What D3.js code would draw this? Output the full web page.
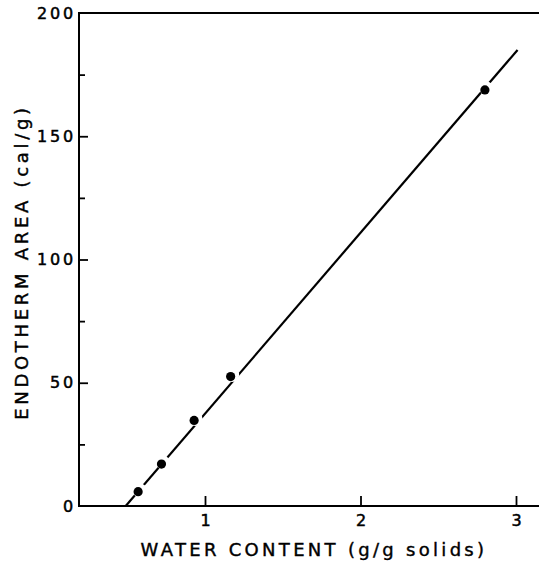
<!DOCTYPE html>
<html>
<head>
<meta charset="utf-8">
<script src="https://cdn.jsdelivr.net/npm/d3@7"></script>
<style>
  html, body { margin: 0; padding: 0; background: #fff; }
  svg { display: block; }
  text { font-family: "DejaVu Sans", sans-serif; fill: #000; }
</style>
</head>
<body>
<svg id="chart" width="539" height="566"></svg>
<script>
// ---- data ----
const waterContent = [0.57, 0.72, 0.93, 1.165, 2.80];
const endothermArea = [5.8, 17, 34.7, 52.5, 168.8];
const fitLineX = [0.49, 3.01];
const fitLineY = [0, 185];
const xMajorTicks = [1, 2, 3];
const yMajorTicks = [0, 50, 100, 150, 200];
const yMinorTicks = [25, 75, 125, 175];
const xTitle = "WATER CONTENT (g/g solids)";
const yTitle = "ENDOTHERM AREA (cal/g)";

const svg = d3.select("#chart");
const W = 539, H = 566;
const axisX = 79;

const x = d3.scaleLinear().domain([0, 3]).range([49.5, 516]);
const y = d3.scaleLinear().domain([0, 200]).range([506, 13]);

// axis frame lines
svg.append("line").attr("x1", axisX).attr("x2", axisX)
  .attr("y1", y(200)).attr("y2", y(0))
  .attr("stroke", "#000").attr("stroke-width", 2);
svg.append("line").attr("x1", axisX - 1).attr("x2", W)
  .attr("y1", y(0)).attr("y2", y(0))
  .attr("stroke", "#000").attr("stroke-width", 2);
svg.append("line").attr("x1", axisX - 1).attr("x2", W)
  .attr("y1", y(200)).attr("y2", y(200))
  .attr("stroke", "#000").attr("stroke-width", 2);

// y axis major
const gy = svg.append("g").attr("transform", `translate(${axisX},0)`)
  .call(d3.axisLeft(y).tickValues(yMajorTicks).tickSize(-9).tickPadding(6)
    .tickFormat(d3.format("d")));
gy.select(".domain").remove();
gy.selectAll(".tick line").attr("stroke-width", 1.8);
gy.selectAll(".tick").filter(d => d === 0 || d === 200).select("line").remove();
gy.selectAll(".tick text").attr("font-size", 16).attr("letter-spacing", 2.8)
  .attr("font-family", "DejaVu Sans").attr("stroke", "#000").attr("stroke-width", 0.5)
  .attr("dx", 3);

// y axis minor
const gym = svg.append("g").attr("transform", `translate(${axisX},0)`)
  .call(d3.axisLeft(y).tickValues(yMinorTicks).tickSize(-6).tickFormat(""));
gym.select(".domain").remove();
gym.selectAll(".tick line").attr("stroke-width", 1.8);

// x axis
const gx = svg.append("g").attr("transform", `translate(0,${y(0)})`)
  .call(d3.axisBottom(x).tickValues(xMajorTicks).tickSize(-10).tickPadding(9)
    .tickFormat(d3.format("d")));
gx.select(".domain").remove();
gx.selectAll(".tick line").attr("stroke-width", 1.8);
gx.selectAll(".tick text").attr("font-size", 16).attr("font-family", "DejaVu Sans")
  .attr("stroke", "#000").attr("stroke-width", 0.5);

// fit line
const lineData = fitLineX.map((d, i) => [d, fitLineY[i]]);
svg.append("path")
  .datum(lineData)
  .attr("d", d3.line().x(d => x(d[0])).y(d => y(d[1])))
  .attr("stroke", "#000").attr("stroke-width", 2.2).attr("fill", "none");

// points with white halos (line broken around points)
const pts = waterContent.map((d, i) => [d, endothermArea[i]]);
svg.append("g").selectAll("circle.halo").data(pts).join("circle")
  .attr("class", "halo")
  .attr("cx", d => x(d[0]) + 1.5).attr("cy", d => y(d[1]) - 1.5)
  .attr("r", 7).attr("fill", "#fff");
svg.append("g").selectAll("circle.pt").data(pts).join("circle")
  .attr("class", "pt")
  .attr("cx", d => x(d[0])).attr("cy", d => y(d[1]))
  .attr("r", 4.6).attr("fill", "#000");

// titles
svg.append("text")
  .attr("x", 314).attr("y", 556)
  .attr("text-anchor", "middle")
  .attr("font-size", 18).attr("letter-spacing", 3.3)
  .attr("stroke", "#000").attr("stroke-width", 0.4)
  .text(xTitle);

svg.append("text")
  .attr("transform", "translate(28,262) rotate(-90)")
  .attr("text-anchor", "middle")
  .attr("font-size", 18).attr("letter-spacing", 3.7)
  .attr("stroke", "#000").attr("stroke-width", 0.4)
  .text(yTitle);
</script>
</body>
</html>
